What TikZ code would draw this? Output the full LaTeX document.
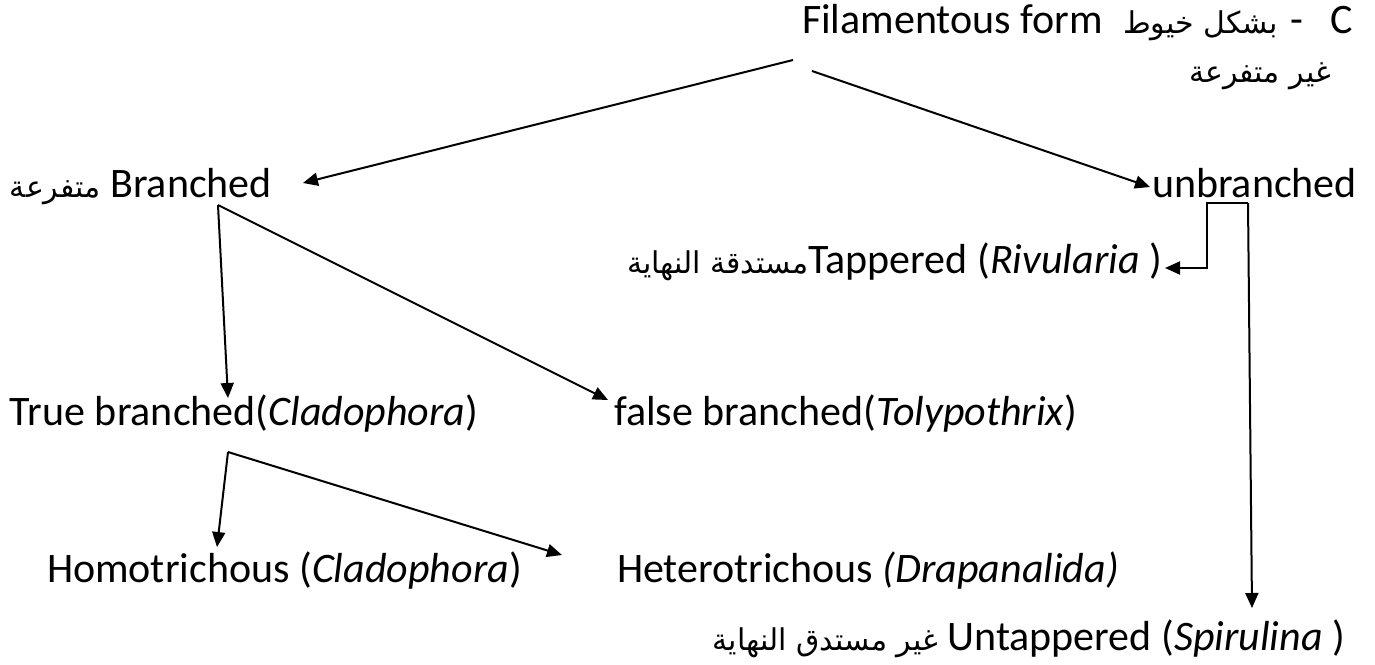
\documentclass[tikz,border=0pt]{standalone}
\usepackage{fontspec}
\setmainfont{Carlito}
\newfontfamily\arabicfont[Script=Arabic]{DejaVu Sans}
\TeXXeTstate=1
\usetikzlibrary{arrows.meta}
\newcommand{\artxt}[1]{{\arabicfont\fontsize{15}{18}\selectfont\beginR #1\endR}}

\begin{document}
\begin{tikzpicture}[
    x=0.5pt, y=-0.5pt,
    term/.style={inner sep=0pt, outer sep=0pt, font=\fontsize{21}{25}\selectfont},
    arrow/.style={-{Triangle[length=7.5pt, width=6.5pt]}, line width=1pt}
]
\useasboundingbox (0,0) rectangle (1375,664);

% Top - filamentous form
\node[term, anchor=base west] (filam) at (802,33) {Filamentous form};
\node[term, anchor=base east] (filamAr) at (1278,33) {\artxt{بشكل خيوط}};
\node[term, anchor=base west] (cdash) at (1290,33) {-};
\node[term, anchor=base west] (clabel) at (1330,33) {C};
\node[term, anchor=base] (nonbrAr) at (1260,82) {\artxt{غير متفرعة}};

% Second row
\node[term, anchor=base west] (branched) at (10,197) {\artxt{متفرعة} Branched};
\node[term, anchor=base west] (unbr) at (1152,197) {unbranched};
\node[term, anchor=base east] (tapered) at (1162,273) {\artxt{مستدقة النهاية}Tappered (\textit{Rivularia} )};

% Third row - branched kinds
\node[term, anchor=base west] (truebr) at (10,425) {True branched(\textit{Cladophora})};
\node[term, anchor=base west] (falsebr) at (614,425) {false branched(\textit{Tolypothrix})};

% Bottom rows
\node[term, anchor=base west] (homo) at (47,582) {Homotrichous (\textit{Cladophora})};
\node[term, anchor=base west] (hetero) at (617,582) {Heterotrichous \textit{(Drapanalida)}};
\node[term, anchor=base east] (untap) at (1345,650) {\artxt{غير مستدق النهاية} Untappered (\textit{Spirulina} )};

% Fork points
\coordinate (brfork) at ([shift={(208,8)}]branched.base west);
\coordinate (tbfork) at ([shift={(218,27)}]truebr.base west);
\coordinate (ubl) at ([shift={(55,6)}]unbr.base west);
\coordinate (ubr) at ([shift={(96,6)}]unbr.base west);

% Connectors
\draw[arrow] ([shift={(-9,27)}]filam.base west) -- ([shift={(31,-14)}]branched.base east);
\draw[arrow] ([shift={(10,38)}]filam.base west) -- ([shift={(-2,-10)}]unbr.base west);
\draw[arrow] (brfork) -- ([shift={(218,-27)}]truebr.base west);
\draw[arrow] (brfork) -- ([shift={(-6,-25)}]falsebr.base west);
\draw[arrow] (tbfork) -- ([shift={(170,-35)}]homo.base west);
\draw[arrow] (tbfork) -- ([shift={(-55,-27)}]hetero.base west);
\draw[arrow] (ubr) -- (ubl) |- ([shift={(3,-5)}]tapered.base east);
\draw[arrow] (ubr) -- ([shift={(-93,-42)}]untap.base east);

\end{tikzpicture}
\end{document}
